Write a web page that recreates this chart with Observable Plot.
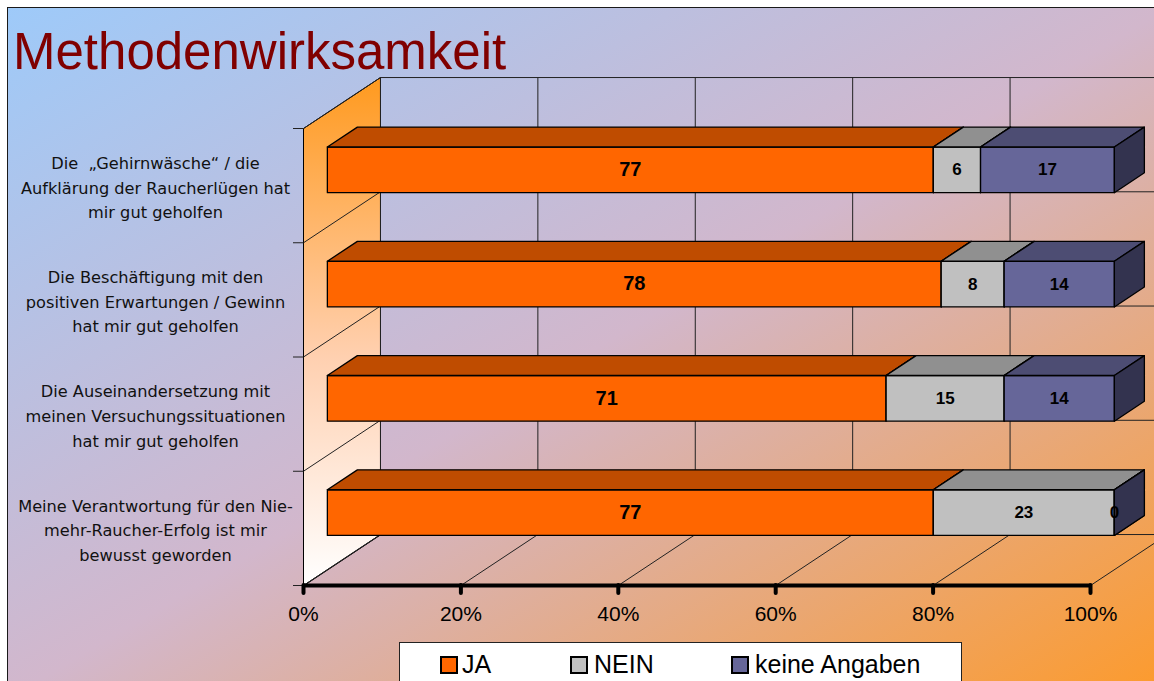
<!DOCTYPE html>
<html>
<head>
<meta charset="utf-8">
<script src="https://cdn.jsdelivr.net/npm/d3@7"></script>
<script src="https://cdn.jsdelivr.net/npm/@observablehq/plot@0.6"></script>
<style>
html, body { margin: 0; padding: 0; width: 1154px; height: 681px; overflow: hidden; background: #fff; }
#bg { position: absolute; left: 7px; top: 7px; width: 1160px; height: 690px;
  border-left: 1.5px solid #1a1a1a; border-top: 1.5px solid #1a1a1a;
  background: linear-gradient(to bottom right, #9ecaf9 0%, #d2b7cc 50%, #fd9a2a 100%); }
#plot { position: absolute; left: 0; top: 0; }
#title { position: absolute; left: 13px; top: 26px; font: 51px/51px "Liberation Sans", Arial, sans-serif; color: #800000; white-space: nowrap; }
#legend { position: absolute; left: 399px; top: 642px; width: 563px; height: 60px; background: #fff; border: 1.5px solid #222; box-sizing: border-box; }
.sw { position: absolute; top: 656px; width: 14px; height: 14px; border: 2px solid #000; }
.lt { position: absolute; top: 652px; font: 25px/24px "Liberation Sans", Arial, sans-serif; color: #000; white-space: nowrap; }
</style>
</head>
<body>
<div id="bg"></div>
<div id="plot"></div>
<div id="title">Methodenwirksamkeit</div>
<div id="legend"></div>
<div id="legendItems"></div>
<script>
// ---- data ----
const categories = [
  "Die  „Gehirnwäsche“ / die\nAufklärung der Raucherlügen hat\nmir gut geholfen",
  "Die Beschäftigung mit den\npositiven Erwartungen / Gewinn\nhat mir gut geholfen",
  "Die Auseinandersetzung mit\nmeinen Versuchungssituationen\nhat mir gut geholfen",
  "Meine Verantwortung für den Nie-\nmehr-Raucher-Erfolg ist mir\nbewusst geworden"
];
const seriesNames = ["JA", "NEIN", "keine Angaben"];
const ja = [77, 78, 71, 77];
const nein = [6, 8, 15, 23];
const keineAngaben = [17, 14, 14, 0];
const xTicks = [0, 20, 40, 60, 80, 100];

// ---- styles ----
const frontColors = ["#ff6600", "#c0c0c0", "#666699"];
const topColors = ["#bf4c00", "#909090", "#4d4d73"];
const sideColors = ["#803300", "#606060", "#33334f"];
const labelSizes = [20, 17, 17];

// ---- 3D projection in data units ----
const N = categories.length;
const DX = 9.78, DY = 0.446;      // depth vector (x in %, y in rows)
const D0 = 0.31, D1 = 0.70, HALF = 0.2;
const P = (x, y, d) => ({x: x + d * DX, y: y + d * DY});

const faces = [];
const barLabels = [];
let fid = 0;
const addFace = (pts, fill) => { const id = fid++; pts.forEach(p => faces.push({...p, id, fill})); };
categories.forEach((c, i) => {
  const r = N - 1 - i;
  const vals = [ja[i], nein[i], keineAngaben[i]];
  let x0 = 0;
  vals.forEach((v, s) => {
    const x1 = x0 + v;
    const yb = r + 0.5 - HALF, yt = r + 0.5 + HALF;
    addFace([P(x0, yb, D0), P(x1, yb, D0), P(x1, yt, D0), P(x0, yt, D0)], frontColors[s]);
    addFace([P(x0, yt, D0), P(x1, yt, D0), P(x1, yt, D1), P(x0, yt, D1)], topColors[s]);
    addFace([P(x1, yb, D0), P(x1, yt, D0), P(x1, yt, D1), P(x1, yb, D1)], sideColors[s]);
    const m = P((x0 + x1) / 2, r + 0.5, D0);
    barLabels.push({x: m.x, y: m.y, t: String(v), fs: labelSizes[s]});
    x0 = x1;
  });
});

const wall = [P(0, 0, 0), P(0, N, 0), P(0, N, 1), P(0, 0, 1)];
const rows = d3.range(N + 1);
const links = [];
xTicks.forEach(x => { const a = P(x, 0, 1), b = P(x, N, 1); links.push({x1: a.x, y1: a.y, x2: b.x, y2: b.y}); });
rows.forEach(y => { const a = P(0, y, 1), b = P(100, y, 1); links.push({x1: a.x, y1: a.y, x2: b.x, y2: b.y}); });
rows.forEach(y => { const a = P(0, y, 0), b = P(0, y, 1); links.push({x1: a.x, y1: a.y, x2: b.x, y2: b.y}); });
xTicks.forEach(x => { const a = P(x, 0, 0), b = P(x, 0, 1); links.push({x1: a.x, y1: a.y, x2: b.x, y2: b.y}); });

const catRows = categories.map((label, i) => ({label, y: N - 1 - i + 0.5}));

const chart = Plot.plot({
  width: 1154, height: 681,
  marginLeft: 303, marginRight: 64, marginTop: 128, marginBottom: 96,
  x: {domain: [0, 100], label: null},
  y: {domain: [0, N], label: null},
  color: {type: "identity"},
  style: {background: "transparent", fontFamily: "'Liberation Sans', Arial, sans-serif", fontSize: "21px", color: "#000", overflow: "visible"},
  marks: [
    Plot.line(wall, {x: "x", y: "y", fill: "url(#wallGrad)", stroke: "#000", strokeWidth: 1, curve: "linear-closed"}),
    Plot.link(links, {x1: "x1", y1: "y1", x2: "x2", y2: "y2", stroke: "#222", strokeWidth: 1}),
    Plot.axisY({ticks: rows, tickSize: 10, tickFormat: () => "", stroke: "#222", strokeWidth: 1}),
    Plot.ruleY([0], {x1: 0, x2: 100, stroke: "#000", strokeWidth: 4}),
    Plot.axisX({ticks: xTicks, tickFormat: d => d + "%", tickSize: 8, tickPadding: 13, strokeWidth: 4, strokeLinecap: "round", fontSize: 21, anchor: "bottom"}),
    Plot.line(faces, {x: "x", y: "y", z: "id", fill: "fill", stroke: "#000", strokeWidth: 1.3, curve: "linear-closed"}),
    Plot.text(barLabels, {x: "x", y: "y", text: "t", fontSize: d => d.fs, fontWeight: "bold", fill: "#000", fontFamily: "'Liberation Sans', Arial, sans-serif"}),
    Plot.text(catRows, {y: "y", text: "label", frameAnchor: "left", dx: -148, textAnchor: "middle", lineAnchor: "middle", lineHeight: 1.52, fontSize: 16.2, fill: "#111", fontFamily: "'DejaVu Sans', sans-serif"})
  ]
});

const defs = d3.select(chart).insert("defs", ":first-child");
const grad = defs.append("linearGradient").attr("id", "wallGrad").attr("x1", 0).attr("y1", 0).attr("x2", 0).attr("y2", 1);
grad.append("stop").attr("offset", 0).attr("stop-color", "#ff9a1f");
grad.append("stop").attr("offset", 0.55).attr("stop-color", "#ffd0b0");
grad.append("stop").attr("offset", 1).attr("stop-color", "#ffffff");
document.getElementById("plot").appendChild(chart);

// legend
const swLeft = [440, 570, 731], txLeft = [462, 594, 755];
const li = document.getElementById("legendItems");
seriesNames.forEach((name, s) => {
  const sw = document.createElement("div");
  sw.className = "sw"; sw.style.left = swLeft[s] + "px"; sw.style.background = frontColors[s];
  const tx = document.createElement("div");
  tx.className = "lt"; tx.style.left = txLeft[s] + "px"; tx.textContent = name;
  li.appendChild(sw); li.appendChild(tx);
});
</script>
</body>
</html>
